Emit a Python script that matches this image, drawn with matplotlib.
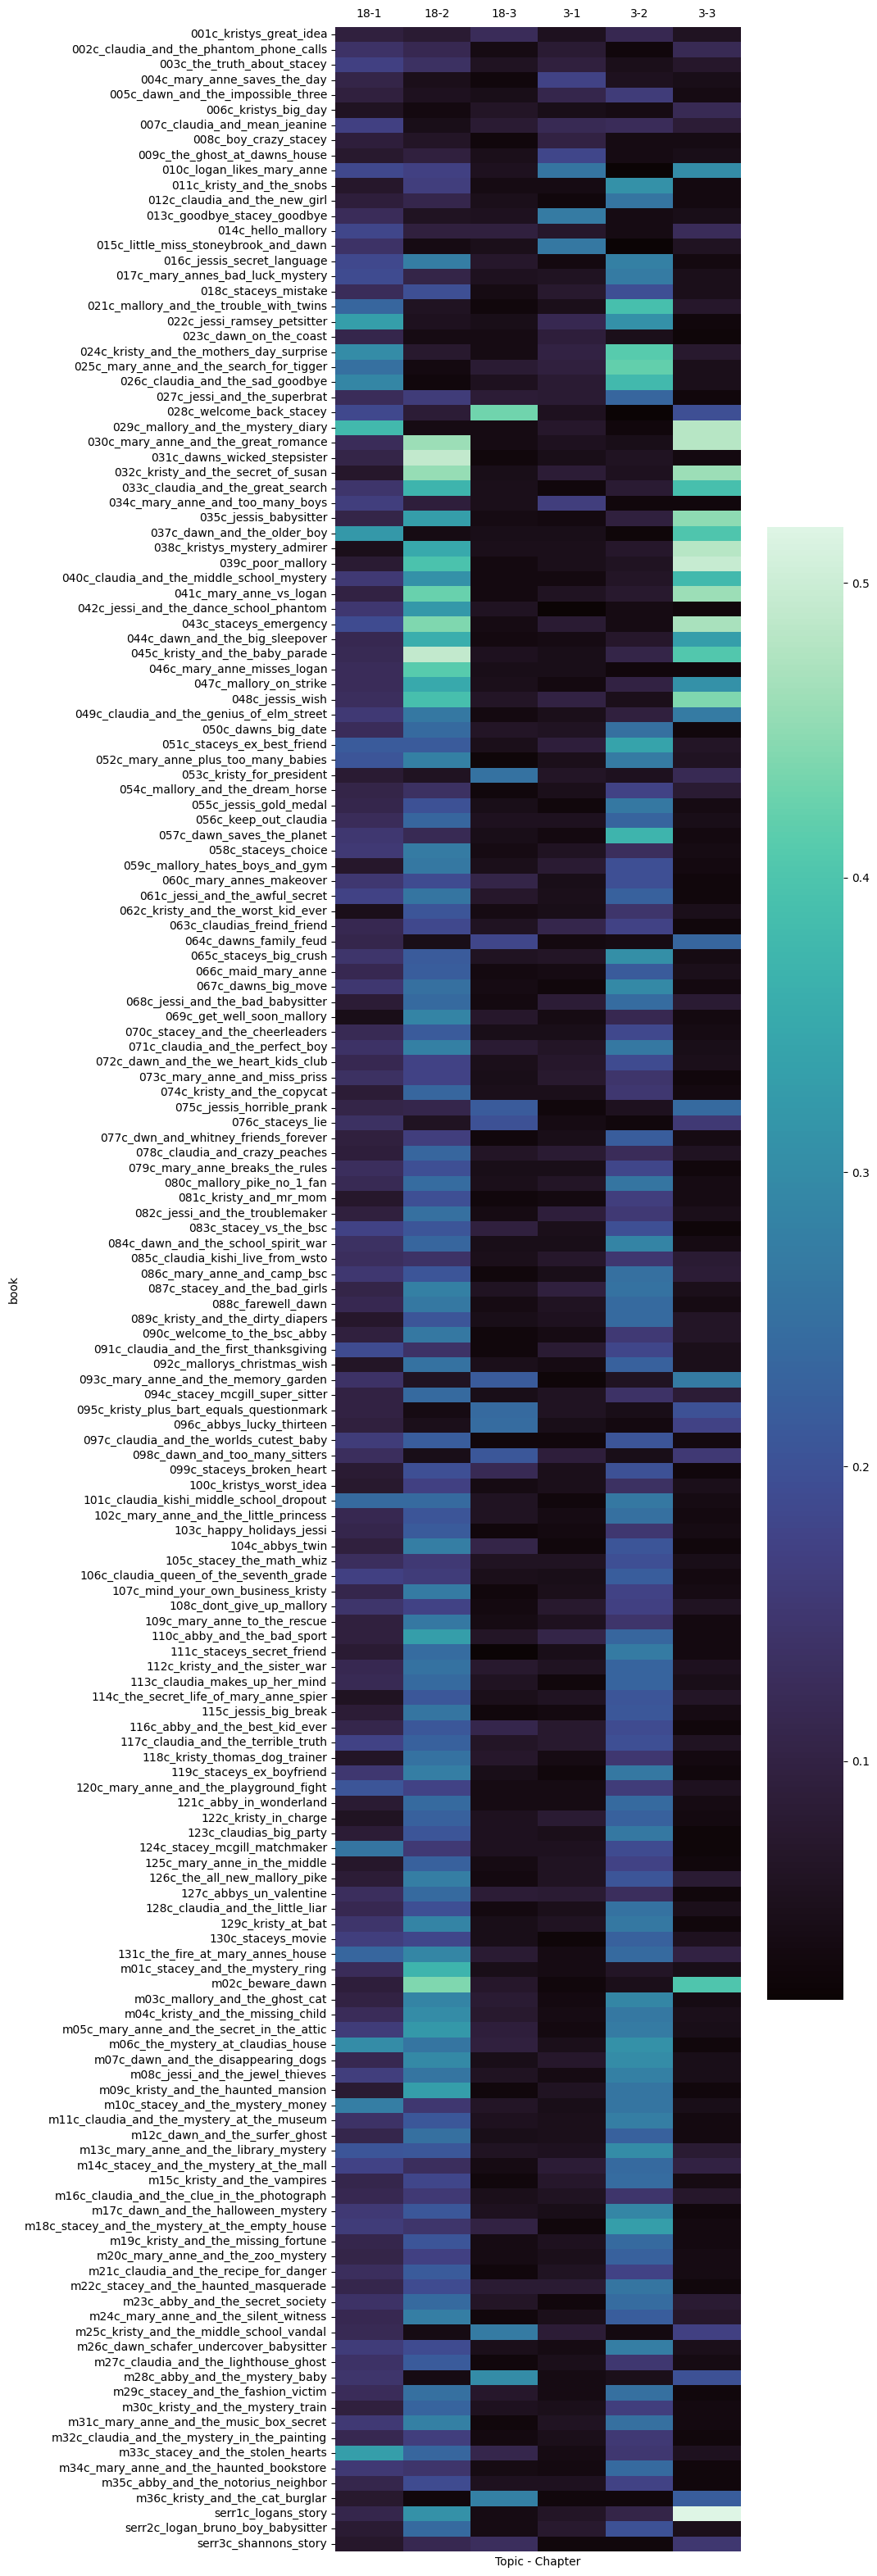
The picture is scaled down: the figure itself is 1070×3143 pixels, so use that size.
import matplotlib
matplotlib.use("Agg")
import matplotlib.pyplot as plt
import numpy as np
import pandas as pd
import seaborn as sns

books = """001c_kristys_great_idea 002c_claudia_and_the_phantom_phone_calls 003c_the_truth_about_stacey 004c_mary_anne_saves_the_day 005c_dawn_and_the_impossible_three 006c_kristys_big_day 007c_claudia_and_mean_jeanine 008c_boy_crazy_stacey 009c_the_ghost_at_dawns_house 010c_logan_likes_mary_anne
011c_kristy_and_the_snobs 012c_claudia_and_the_new_girl 013c_goodbye_stacey_goodbye 014c_hello_mallory 015c_little_miss_stoneybrook_and_dawn 016c_jessis_secret_language 017c_mary_annes_bad_luck_mystery 018c_staceys_mistake
021c_mallory_and_the_trouble_with_twins 022c_jessi_ramsey_petsitter 023c_dawn_on_the_coast 024c_kristy_and_the_mothers_day_surprise 025c_mary_anne_and_the_search_for_tigger 026c_claudia_and_the_sad_goodbye 027c_jessi_and_the_superbrat 028c_welcome_back_stacey 029c_mallory_and_the_mystery_diary 030c_mary_anne_and_the_great_romance
031c_dawns_wicked_stepsister 032c_kristy_and_the_secret_of_susan 033c_claudia_and_the_great_search 034c_mary_anne_and_too_many_boys 035c_jessis_babysitter 037c_dawn_and_the_older_boy 038c_kristys_mystery_admirer 039c_poor_mallory 040c_claudia_and_the_middle_school_mystery
041c_mary_anne_vs_logan 042c_jessi_and_the_dance_school_phantom 043c_staceys_emergency 044c_dawn_and_the_big_sleepover 045c_kristy_and_the_baby_parade 046c_mary_anne_misses_logan 047c_mallory_on_strike 048c_jessis_wish 049c_claudia_and_the_genius_of_elm_street 050c_dawns_big_date
051c_staceys_ex_best_friend 052c_mary_anne_plus_too_many_babies 053c_kristy_for_president 054c_mallory_and_the_dream_horse 055c_jessis_gold_medal 056c_keep_out_claudia 057c_dawn_saves_the_planet 058c_staceys_choice 059c_mallory_hates_boys_and_gym 060c_mary_annes_makeover
061c_jessi_and_the_awful_secret 062c_kristy_and_the_worst_kid_ever 063c_claudias_freind_friend 064c_dawns_family_feud 065c_staceys_big_crush 066c_maid_mary_anne 067c_dawns_big_move 068c_jessi_and_the_bad_babysitter 069c_get_well_soon_mallory 070c_stacey_and_the_cheerleaders
071c_claudia_and_the_perfect_boy 072c_dawn_and_the_we_heart_kids_club 073c_mary_anne_and_miss_priss 074c_kristy_and_the_copycat 075c_jessis_horrible_prank 076c_staceys_lie 077c_dwn_and_whitney_friends_forever 078c_claudia_and_crazy_peaches 079c_mary_anne_breaks_the_rules 080c_mallory_pike_no_1_fan
081c_kristy_and_mr_mom 082c_jessi_and_the_troublemaker 083c_stacey_vs_the_bsc 084c_dawn_and_the_school_spirit_war 085c_claudia_kishi_live_from_wsto 086c_mary_anne_and_camp_bsc 087c_stacey_and_the_bad_girls 088c_farewell_dawn 089c_kristy_and_the_dirty_diapers 090c_welcome_to_the_bsc_abby
091c_claudia_and_the_first_thanksgiving 092c_mallorys_christmas_wish 093c_mary_anne_and_the_memory_garden 094c_stacey_mcgill_super_sitter 095c_kristy_plus_bart_equals_questionmark 096c_abbys_lucky_thirteen 097c_claudia_and_the_worlds_cutest_baby 098c_dawn_and_too_many_sitters 099c_staceys_broken_heart 100c_kristys_worst_idea
101c_claudia_kishi_middle_school_dropout 102c_mary_anne_and_the_little_princess 103c_happy_holidays_jessi 104c_abbys_twin 105c_stacey_the_math_whiz 106c_claudia_queen_of_the_seventh_grade 107c_mind_your_own_business_kristy 108c_dont_give_up_mallory 109c_mary_anne_to_the_rescue 110c_abby_and_the_bad_sport
111c_staceys_secret_friend 112c_kristy_and_the_sister_war 113c_claudia_makes_up_her_mind 114c_the_secret_life_of_mary_anne_spier 115c_jessis_big_break 116c_abby_and_the_best_kid_ever 117c_claudia_and_the_terrible_truth 118c_kristy_thomas_dog_trainer 119c_staceys_ex_boyfriend 120c_mary_anne_and_the_playground_fight
121c_abby_in_wonderland 122c_kristy_in_charge 123c_claudias_big_party 124c_stacey_mcgill_matchmaker 125c_mary_anne_in_the_middle 126c_the_all_new_mallory_pike 127c_abbys_un_valentine 128c_claudia_and_the_little_liar 129c_kristy_at_bat 130c_staceys_movie 131c_the_fire_at_mary_annes_house
m01c_stacey_and_the_mystery_ring m02c_beware_dawn m03c_mallory_and_the_ghost_cat m04c_kristy_and_the_missing_child m05c_mary_anne_and_the_secret_in_the_attic m06c_the_mystery_at_claudias_house m07c_dawn_and_the_disappearing_dogs m08c_jessi_and_the_jewel_thieves m09c_kristy_and_the_haunted_mansion m10c_stacey_and_the_mystery_money
m11c_claudia_and_the_mystery_at_the_museum m12c_dawn_and_the_surfer_ghost m13c_mary_anne_and_the_library_mystery m14c_stacey_and_the_mystery_at_the_mall m15c_kristy_and_the_vampires m16c_claudia_and_the_clue_in_the_photograph m17c_dawn_and_the_halloween_mystery m18c_stacey_and_the_mystery_at_the_empty_house m19c_kristy_and_the_missing_fortune m20c_mary_anne_and_the_zoo_mystery
m21c_claudia_and_the_recipe_for_danger m22c_stacey_and_the_haunted_masquerade m23c_abby_and_the_secret_society m24c_mary_anne_and_the_silent_witness m25c_kristy_and_the_middle_school_vandal m26c_dawn_schafer_undercover_babysitter m27c_claudia_and_the_lighthouse_ghost m28c_abby_and_the_mystery_baby m29c_stacey_and_the_fashion_victim m30c_kristy_and_the_mystery_train
m31c_mary_anne_and_the_music_box_secret m32c_claudia_and_the_mystery_in_the_painting m33c_stacey_and_the_stolen_hearts m34c_mary_anne_and_the_haunted_bookstore m35c_abby_and_the_notorius_neighbor m36c_kristy_and_the_cat_burglar serr1c_logans_story serr2c_logan_bruno_boy_babysitter serr3c_shannons_story""".split()

topic_labels = ["18-1", "18-2", "18-3", "3-1", "3-2", "3-3"]

t18_1 = [
 .095,.14,.17,.105,.095,.06,.17,.09,.075,.185,.07,.09,.125,.18,.14,.185,.19,.125,
 .235,.33,.11,.30,.25,.29,.125,.185,.38,.125,.105,.07,.145,.165,.105,
 .32,.05,.08,.155,.10,.15,.19,.115,.12,.125,
 .125,.13,.155,.125,.215,.205,.08,.105,.11,.125,
 .15,.155,.07,.15,.175,.05,.115,.11,.145,.115,
 .15,.085,.045,.12,.14,.115,.135,.085,.105,.135,
 .095,.09,.13,.12,.07,.095,.175,.135,.13,.15,
 .105,.115,.07,.095,.19,.065,.14,.10,.10,.095,
 .16,.13,.08,.075,.24,.115,.11,.095,.13,.17,
 .11,.145,.095,.095,.08,.115,.12,.06,.085,.11,
 .175,.065,.15,.205,.08,.06,.085,.26,.07,.085,
 .13,.115,.145,.165,.235,
 .125,.09,.10,.125,.16,.30,.115,.165,.08,.275,
 .14,.11,.205,.175,.11,.115,.155,.16,.11,.105,
 .13,.11,.14,.115,.12,.16,.14,.145,.125,.095,
 .155,.115,.33,.155,.11,.075,
 .11,.08,.07]

t18_2 = [
 .08,.115,.135,.05,.055,.035,.045,.065,.095,.17,.165,.11,.06,.095,.04,.275,.105,.195,
 .06,.055,.04,.075,.035,.03,.16,.085,.04,.46,.49,.455,.37,.09,.33,
 .04,.35,.395,.31,.425,.32,.44,.36,.49,.41,
 .35,.39,.265,.24,.215,.28,.06,.135,.20,.235,
 .12,.27,.265,.19,.26,.205,.185,.045,.215,.22,
 .25,.24,.285,.215,.28,.175,.175,.235,.11,.06,
 .165,.235,.195,.245,.195,.25,.205,.235,.14,.205,
 .28,.265,.205,.265,.14,.255,.06,.24,.04,.05,
 .22,.045,.195,.17,.24,.205,.215,.275,.155,.16,
 .27,.175,.265,.33,.245,.255,.24,.21,.26,.21,
 .225,.255,.275,.175,.24,.225,.205,.155,.225,.275,
 .24,.195,.285,.18,.29,
 .37,.44,.285,.30,.32,.26,.295,.26,.33,.15,
 .21,.25,.21,.13,.18,.155,.21,.145,.205,.17,
 .215,.19,.24,.275,.04,.19,.215,.04,.25,.23,
 .28,.165,.235,.145,.19,.03,
 .31,.24,.115]

t18_3 = [
 .125,.04,.06,.03,.045,.065,.08,.03,.05,.055,.04,.05,.055,.095,.05,.07,.055,.04,
 .03,.045,.04,.04,.08,.055,.085,.43,.04,.04,.03,.045,.05,.05,.04,
 .045,.05,.035,.035,.035,.06,.04,.035,.055,.045,
 .05,.065,.035,.065,.05,.025,.255,.03,.045,.055,
 .045,.04,.05,.105,.07,.04,.06,.18,.06,.035,
 .04,.035,.07,.045,.08,.05,.045,.05,.215,.20,
 .03,.065,.045,.05,.03,.04,.095,.045,.05,.03,
 .06,.04,.045,.03,.03,.05,.215,.045,.24,.245,
 .03,.21,.12,.04,.06,.06,.03,.105,.06,.05,
 .03,.035,.04,.065,.02,.075,.06,.05,.03,.11,
 .065,.07,.045,.04,.04,.055,.055,.055,.04,.035,
 .085,.035,.045,.045,.08,
 .045,.07,.08,.075,.09,.095,.045,.06,.03,.065,
 .055,.045,.06,.04,.03,.05,.055,.10,.04,.04,
 .03,.08,.065,.03,.27,.05,.03,.30,.07,.055,
 .03,.035,.11,.04,.055,.28,
 .04,.04,.13]

t3_1 = [
 .055,.08,.095,.175,.11,.045,.12,.10,.18,.26,.04,.03,.27,.07,.265,.035,.06,.075,
 .05,.115,.09,.10,.095,.08,.08,.055,.07,.055,.045,.085,.03,.165,.035,
 .045,.05,.05,.035,.06,.02,.08,.04,.045,.045,
 .035,.10,.05,.06,.09,.05,.065,.05,.03,.055,
 .035,.06,.08,.045,.05,.045,.11,.035,.065,.04,
 .03,.085,.04,.045,.065,.07,.075,.05,.03,.04,
 .045,.08,.045,.065,.035,.09,.05,.045,.07,.045,
 .095,.06,.055,.04,.08,.04,.025,.06,.06,.045,
 .03,.09,.05,.05,.03,.04,.035,.03,.06,.045,
 .05,.075,.055,.105,.045,.06,.03,.06,.035,.075,
 .075,.04,.03,.04,.04,.08,.05,.055,.06,.06,
 .08,.05,.06,.025,.04,
 .04,.03,.035,.04,.035,.05,.07,.04,.06,.045,
 .05,.05,.055,.085,.07,.06,.045,.03,.055,.05,
 .06,.08,.03,.05,.085,.04,.05,.04,.04,.05,
 .06,.05,.04,.035,.055,.03,
 .065,.075,.03]

t3_2 = [
 .115,.03,.05,.055,.16,.04,.125,.04,.04,.02,.31,.26,.04,.04,.02,.28,.27,.195,
 .39,.31,.05,.41,.42,.38,.235,.02,.03,.045,.06,.055,.08,.03,.095,
 .025,.07,.06,.065,.075,.04,.04,.07,.105,.03,
 .10,.05,.095,.25,.34,.27,.055,.175,.265,.23,
 .37,.13,.195,.195,.225,.145,.175,.04,.305,.215,
 .295,.245,.115,.185,.265,.19,.145,.15,.055,.03,
 .22,.125,.18,.26,.165,.155,.195,.285,.15,.25,
 .255,.24,.24,.155,.18,.225,.06,.14,.045,.035,
 .205,.045,.20,.135,.265,.25,.15,.205,.195,.22,
 .175,.17,.145,.235,.27,.23,.23,.205,.21,.19,
 .195,.15,.265,.16,.24,.225,.265,.19,.175,.205,
 .13,.255,.265,.225,.24,
 .065,.05,.29,.265,.27,.31,.30,.28,.26,.26,
 .275,.225,.30,.24,.245,.145,.29,.33,.24,.225,
 .175,.26,.245,.22,.035,.275,.15,.05,.25,.165,
 .25,.155,.15,.24,.175,.03,
 .105,.20,.03]

t3_3 = [
 .06,.12,.07,.045,.04,.12,.085,.04,.045,.30,.035,.035,.045,.125,.06,.035,.05,.05,
 .07,.03,.025,.075,.05,.05,.03,.195,.48,.48,.035,.46,.39,.03,.45,
 .40,.48,.495,.38,.46,.03,.47,.33,.405,.03,
 .31,.44,.27,.03,.065,.06,.12,.08,.04,.045,
 .035,.04,.035,.03,.03,.05,.03,.235,.04,.05,
 .035,.08,.035,.04,.045,.05,.03,.035,.24,.155,
 .04,.06,.03,.04,.04,.05,.025,.04,.08,.085,
 .05,.04,.065,.065,.05,.05,.27,.085,.20,.175,
 .035,.155,.03,.05,.04,.035,.04,.03,.045,.035,
 .04,.06,.035,.035,.035,.055,.045,.065,.04,.03,
 .06,.035,.03,.055,.04,.035,.025,.025,.03,.08,
 .03,.05,.03,.055,.10,
 .045,.40,.04,.05,.045,.03,.045,.045,.03,.045,
 .035,.035,.08,.10,.04,.07,.03,.035,.035,.04,
 .04,.03,.08,.07,.17,.05,.04,.20,.03,.035,
 .035,.03,.055,.03,.03,.22,
 .52,.05,.15]

df = pd.DataFrame(dict(zip(topic_labels, [t18_1, t18_2, t18_3, t3_1, t3_2, t3_3])), index=books)

W, H = 1070, 3143
fig = plt.figure(figsize=(W / 100, H / 100), dpi=100)
ax = fig.add_axes([409 / W, 1 - 3113 / H, (904 - 409) / W, (3113 - 33) / H])
cax = fig.add_axes([936 / W, 1 - 2440 / H, (1029 - 936) / W, (2440 - 643) / H])

sns.heatmap(df, ax=ax, cbar_ax=cax, cmap="mako", vmin=0.019, vmax=0.519,
            xticklabels=True, yticklabels=True)
ax.set_xlabel("Topic - Chapter")
ax.set_ylabel("book")
ax.tick_params(axis="x", top=False, bottom=False, labeltop=True, labelbottom=False, pad=3, rotation=0)
ax.tick_params(axis="y", rotation=0)
ax.xaxis.set_label_position("bottom")

fig.savefig("out.png", dpi=100)
